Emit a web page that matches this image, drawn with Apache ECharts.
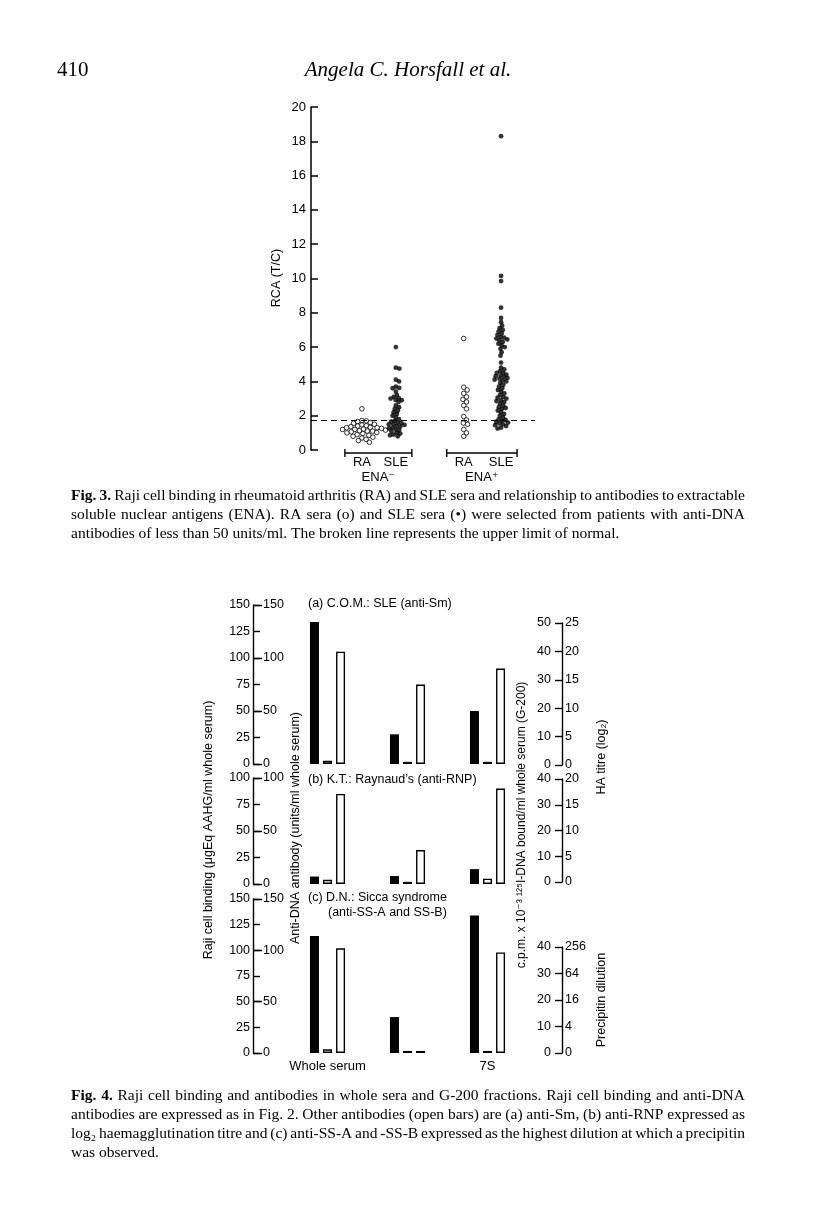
<!DOCTYPE html>
<html><head><meta charset="utf-8">
<script src="https://cdn.jsdelivr.net/npm/echarts@6/dist/echarts.min.js"></script>
<style>html,body{margin:0;padding:0;background:#fff}#c{width:816px;height:1225px}</style>
</head><body><div id="c"></div>
<script>
// ---------------- Fig. 3 data (RCA, T/C) ----------------
const fig3GroupLabels = ['RA', 'SLE', 'RA', 'SLE'];
const fig3Brackets = ['ENA⁻', 'ENA⁺'];
const fig3YTicks = [0, 2, 4, 6, 8, 10, 12, 14, 16, 18, 20];
const raEnaNeg = [2.4, 1.72, 1.7, 1.66, 1.6, 1.56, 1.5, 1.46, 1.42, 1.4, 1.36, 1.32, 1.3, 1.3, 1.26, 1.22, 1.2, 1.2, 1.16, 1.12, 1.1, 1.1, 1.06, 1.02, 1.0, 0.96, 0.9, 0.86, 0.8, 0.75, 0.7, 0.62, 0.55, 0.45];
const sleEnaNeg = [6.0, 4.8, 4.75, 4.1, 4.0, 3.7, 3.62, 3.6, 3.4, 3.2, 3.1, 3.02, 3.0, 2.92, 2.9, 2.8, 2.6, 2.5, 2.4, 2.3, 2.2, 2.1, 2.0, 1.9, 1.8, 1.7, 1.66, 1.6, 1.56, 1.5, 1.5, 1.46, 1.4, 1.36, 1.3, 1.26, 1.2, 1.16, 1.1, 1.0, 0.96, 0.9, 0.86, 0.8];
const raEnaPos = [6.5, 3.66, 3.5, 3.3, 3.1, 2.95, 2.8, 2.6, 2.4, 1.95, 1.75, 1.57, 1.5, 1.2, 1.0, 0.8];
const sleEnaPos = [18.3, 10.15, 9.85, 8.3, 7.7, 7.45, 7.25, 7.1, 7.0, 6.9, 6.8, 6.7, 6.6, 6.55, 6.5, 6.45, 6.4, 6.3, 6.2, 6.1, 6.0, 5.9, 5.7, 5.5, 5.1, 4.8, 4.7, 4.6, 4.5, 4.5, 4.4, 4.35, 4.3, 4.25, 4.2, 4.15, 4.1, 4.05, 4.0, 3.9, 3.8, 3.7, 3.6, 3.5, 3.4, 3.3, 3.2, 3.1, 3.05, 3.0, 2.9, 2.85, 2.8, 2.7, 2.6, 2.5, 2.45, 2.4, 2.3, 2.2, 2.1, 2.0, 1.9, 1.8, 1.75, 1.7, 1.65, 1.6, 1.55, 1.5, 1.45, 1.4, 1.3, 1.25];
const normalLimit = 1.75;

// ---------------- Fig. 4 data (bar heights read on the left scale) ----------------
const fractions = ['Whole serum', 'High MW', '7S'];
const panelTitles = ['(a) C.O.M.: SLE (anti-Sm)', '(b) K.T.: Raynaud\u2019s (anti-RNP)', '(c) D.N.: Sicca syndrome'];
const panelSubtitle = '(anti-SS-A and SS-B)';
const rajiA = [134, 28, 50];
const antiDnaA = [3, 2, 2];
const otherA = [106, 75, 90];
const rajiB = [7, 7.5, 14];
const antiDnaB = [4, 2, 5];
const otherB = [85, 32, 90];
const rajiC = [114, 35, 134];
const antiDnaC = [3.6, 2, 2];
const otherC = [102, 2, 98];
const leftMax = [150, 100, 150];
const cpmMax = [50, 40, 40];
const haMax = [25, 20, 0];
const precipitinLabels = ['0', '4', '16', '64', '256'];

// ---------------- layout ----------------
const INK = '#000';
const SANS = '"Liberation Sans","DejaVu Sans",sans-serif';
const SERIF = '"Liberation Serif","DejaVu Serif",serif';
const F3 = {left: 311, top: 107, width: 224, height: 343, xmax: 6.6};
const groupCenters = [1.5, 2.5, 4.5, 5.6];
const panels = [
  {top: 605, bottom: 764, rTop: 623, rBottom: 765},
  {top: 778, bottom: 884, rTop: 779, rBottom: 882},
  {top: 899, bottom: 1053, rTop: 947, rBottom: 1053}
];

function swarm(values, center, d) {
  const xPx = F3.width / F3.xmax, yPx = F3.height / 20;
  const placed = [];
  const out = [];
  values.slice().sort((a, b) => b - a).forEach(v => {
    const y = v * yPx;
    const cands = [0];
    placed.forEach(p => {
      const dy = Math.abs(p.y - y);
      if (dy < d) { const dx = Math.sqrt(d * d - dy * dy); cands.push(p.x + dx, p.x - dx); }
    });
    cands.sort((a, b) => Math.abs(a) - Math.abs(b));
    let x = 0;
    for (const c of cands) {
      if (placed.every(p => (p.x - c) ** 2 + (p.y - y) ** 2 >= d * d - 0.01)) { x = c; break; }
    }
    placed.push({x, y});
    out.push([center + x / xPx, v]);
  });
  return out;
}

const chart = echarts.init(document.getElementById('c'), null, {renderer: 'canvas'});

const grids = [{left: F3.left, top: F3.top, width: F3.width, height: F3.height}];
const xAxes = [{gridIndex: 0, type: 'value', min: 0, max: F3.xmax, show: false}];
const yAxes = [{
  gridIndex: 0, type: 'value', min: 0, max: 20, interval: 2,
  axisLine: {show: true, onZero: false, lineStyle: {color: INK, width: 1.5}},
  axisTick: {show: true, inside: true, length: 7, lineStyle: {color: INK, width: 1.5}},
  axisLabel: {show: true, margin: 5, color: INK, fontSize: 13, fontFamily: SANS},
  splitLine: {show: false}
}];
const series = [];

const open = {color: '#fff', borderColor: INK, borderWidth: 1};
[[raEnaNeg, true], [sleEnaNeg, false], [raEnaPos, true], [sleEnaPos, false]].forEach(([vals, isOpen], i) => {
  series.push({
    type: 'scatter', xAxisIndex: 0, yAxisIndex: 0, symbol: 'circle',
    symbolSize: isOpen ? 4.6 : 4.8,
    itemStyle: isOpen ? open : {color: INK},
    data: swarm(vals, groupCenters[i], isOpen ? 4.4 : 3.6),
    silent: true, z: 3,
    markLine: i === 0 ? {
      silent: true, symbol: 'none', label: {show: false},
      lineStyle: {color: INK, type: [6, 4], width: 1.2},
      data: [{yAxis: normalLimit}]
    } : undefined
  });
});

const barSets = [[rajiA, antiDnaA, otherA], [rajiB, antiDnaB, otherB], [rajiC, antiDnaC, otherC]];
panels.forEach((p, k) => {
  const gBar = grids.length;
  grids.push({left: 287.5, width: 240, top: p.top, height: p.bottom - p.top});
  const gR = grids.length;
  grids.push({left: 500, width: 62, top: p.rTop, height: p.rBottom - p.rTop});
  xAxes.push({
    gridIndex: gBar, type: 'category', data: fractions,
    axisLine: {show: false}, axisTick: {show: false},
    axisLabel: {show: k === 2, color: INK, fontSize: 13, fontFamily: SANS, margin: 7}
  });
  xAxes.push({gridIndex: gR, type: 'value', min: 0, max: 1, show: false});
  const yRaji = yAxes.length;
  yAxes.push({
    gridIndex: gBar, type: 'value', position: 'left', offset: 34.5, min: 0, max: leftMax[k], interval: 25,
    axisLine: {show: true, onZero: false, lineStyle: {color: INK, width: 1.4}},
    axisTick: {show: true, inside: true, length: 7, lineStyle: {color: INK, width: 1.4}},
    axisLabel: {show: true, margin: 3, color: INK, fontSize: 12.5, fontFamily: SANS},
    splitLine: {show: false}
  });
  yAxes.push({
    gridIndex: gBar, type: 'value', position: 'left', offset: 34.5, min: 0, max: leftMax[k], interval: 50,
    axisLine: {show: false, onZero: false},
    axisTick: {show: true, inside: true, length: 9, lineStyle: {color: INK, width: 1.4}},
    axisLabel: {show: true, inside: true, margin: 10, color: INK, fontSize: 12.5, fontFamily: SANS},
    splitLine: {show: false}
  });
  yAxes.push({
    gridIndex: gR, type: 'value', position: 'right', min: 0, max: cpmMax[k], interval: 10,
    axisLine: {show: true, onZero: false, lineStyle: {color: INK, width: 1.4}},
    axisTick: {show: true, inside: true, length: 7, lineStyle: {color: INK, width: 1.4}},
    axisLabel: {show: true, inside: true, margin: 11, color: INK, fontSize: 12.5, fontFamily: SANS},
    splitLine: {show: false}
  });
  yAxes.push(k < 2 ? {
    gridIndex: gR, type: 'value', position: 'right', min: 0, max: haMax[k], interval: 5,
    axisLine: {show: false, onZero: false}, axisTick: {show: false},
    axisLabel: {show: true, margin: 3, color: INK, fontSize: 12.5, fontFamily: SANS},
    splitLine: {show: false}
  } : {
    gridIndex: gR, type: 'value', position: 'right', min: 0, max: precipitinLabels.length - 1, interval: 1,
    axisLine: {show: false, onZero: false}, axisTick: {show: false},
    axisLabel: {show: true, margin: 3, color: INK, fontSize: 12.5, fontFamily: SANS,
      formatter: v => precipitinLabels[Math.round(v)]},
    splitLine: {show: false}
  });
  const [raji, dna, other] = barSets[k];
  const common = {type: 'bar', xAxisIndex: gBar, yAxisIndex: yRaji, barWidth: 9, barGap: '45%', silent: true};
  series.push(Object.assign({}, common, {data: raji, itemStyle: {color: INK}}));
  series.push(Object.assign({}, common, {data: dna, itemStyle: {color: '#fff', borderColor: INK, borderWidth: 1.4}}));
  series.push(Object.assign({}, common, {data: other, itemStyle: {color: '#fff', borderColor: INK, borderWidth: 1.4}}));
});

chart.setOption({
  backgroundColor: '#fff',
  animation: false,
  grid: grids, xAxis: xAxes, yAxis: yAxes, series
});

// ---------------- text & decorations ----------------
const ctx = document.createElement('canvas').getContext('2d');
function tw(text, font) { ctx.font = font; return ctx.measureText(text).width; }
function txt(text, x, y, font, align, extra) {
  return Object.assign({type: 'text', x, y, silent: true,
    style: {text, font, fill: INK, align: align || 'left', verticalAlign: 'middle',
      textAlign: align || 'left', textVerticalAlign: 'middle'}}, extra || {});
}
function vtxt(text, x, y, font) {
  return {type: 'text', x, y, rotation: Math.PI / 2, silent: true,
    style: {text, font, fill: INK, align: 'center', verticalAlign: 'middle', textAlign: 'center', textVerticalAlign: 'middle'}};
}
// caption line with justification
const lastLine3 = 'antibodies of less than 50 units/ml. The broken line represents the upper limit of normal.';
const capSize = Math.min(15.5, 553 / tw(lastLine3, '1px ' + SERIF));
function capLine(text, y, justify, boldWords) {
  const words = text.split(' ');
  const fonts = words.map((w, i) => (i < boldWords ? 'bold ' : '') + capSize + 'px ' + SERIF);
  const widths = words.map((w, i) => tw(w, fonts[i]));
  const total = widths.reduce((a, b) => a + b, 0);
  const space = justify ? (745 - 71 - total) / (words.length - 1) : tw(' ', capSize + 'px ' + SERIF);
  let x = 71; const els = [];
  words.forEach((w, i) => { els.push(txt(w, x, y, fonts[i], 'left')); x += widths[i] + space; });
  return els;
}

const g = [];
g.push(txt('410', 57, 70, '21px ' + SERIF, 'left'));
g.push(txt('Angela C. Horsfall et al.', 408, 70, 'italic 21px ' + SERIF, 'center'));

// Fig 3 decorations
g.push(vtxt('RCA (T/C)', 277, 278, '12.5px ' + SANS));
const px = v => chart.convertToPixel({xAxisIndex: 0, yAxisIndex: 0}, [v, 0]);
fig3GroupLabels.forEach((l, i) => {
  const p = px(groupCenters[i]);
  g.push(txt(l, p[0], 462, '13px ' + SANS, 'center'));
});
[[0, 1], [2, 3]].forEach(([a, b], j) => {
  const x1 = px(groupCenters[a])[0] - 17, x2 = px(groupCenters[b])[0] + 16;
  const yb = 453;
  const ls = {stroke: INK, lineWidth: 1.4};
  g.push({type: 'line', silent: true, shape: {x1, y1: yb, x2, y2: yb}, style: ls});
  g.push({type: 'line', silent: true, shape: {x1, y1: yb - 4, x2: x1, y2: yb + 4}, style: ls});
  g.push({type: 'line', silent: true, shape: {x1: x2, y1: yb - 4, x2, y2: yb + 4}, style: ls});
  g.push(txt(fig3Brackets[j], (x1 + x2) / 2, 477, '13px ' + SANS, 'center'));
});

// Fig 3 caption
g.push(...capLine('Fig. 3. Raji cell binding in rheumatoid arthritis (RA) and SLE sera and relationship to antibodies to extractable', 496, true, 2));
g.push(...capLine('soluble nuclear antigens (ENA). RA sera (o) and SLE sera (\u2022) were selected from patients with anti-DNA', 515, true, 0));
g.push(...capLine(lastLine3, 534, false, 0));

// Fig 4 texts
g.push(txt(panelTitles[0], 308, 604, '12.5px ' + SANS, 'left'));
g.push(txt(panelTitles[1], 308, 780, '12.5px ' + SANS, 'left'));
g.push(txt(panelTitles[2], 308, 898, '12.5px ' + SANS, 'left'));
g.push(txt(panelSubtitle, 328, 913, '12.5px ' + SANS, 'left'));
g.push(vtxt('Raji cell binding (\u03bcgEq AAHG/ml whole serum)', 209, 830, '12.5px ' + SANS));
g.push(vtxt('Anti-DNA antibody (units/ml whole serum)', 296, 828, '12.5px ' + SANS));
g.push(vtxt('c.p.m. x 10\u207b\u00b3 \u00b9\u00b2\u2075I-DNA bound/ml whole serum (G-200)', 522, 825, '12px ' + SANS));
g.push(vtxt('HA titre (log\u2082)', 602, 757, '12.5px ' + SANS));
g.push(vtxt('Precipitin dilution', 602, 1000, '12.5px ' + SANS));

// Fig 4 caption
g.push(...capLine('Fig. 4. Raji cell binding and antibodies in whole sera and G-200 fractions. Raji cell binding and anti-DNA', 1096, true, 2));
g.push(...capLine('antibodies are expressed as in Fig. 2. Other antibodies (open bars) are (a) anti-Sm, (b) anti-RNP expressed as', 1115, true, 0));
g.push(...capLine('log\u2082 haemagglutination titre and (c) anti-SS-A and -SS-B expressed as the highest dilution at which a precipitin', 1134, true, 0));
g.push(...capLine('was observed.', 1153, false, 0));

chart.setOption({graphic: {elements: g}});
</script>
</body></html>
